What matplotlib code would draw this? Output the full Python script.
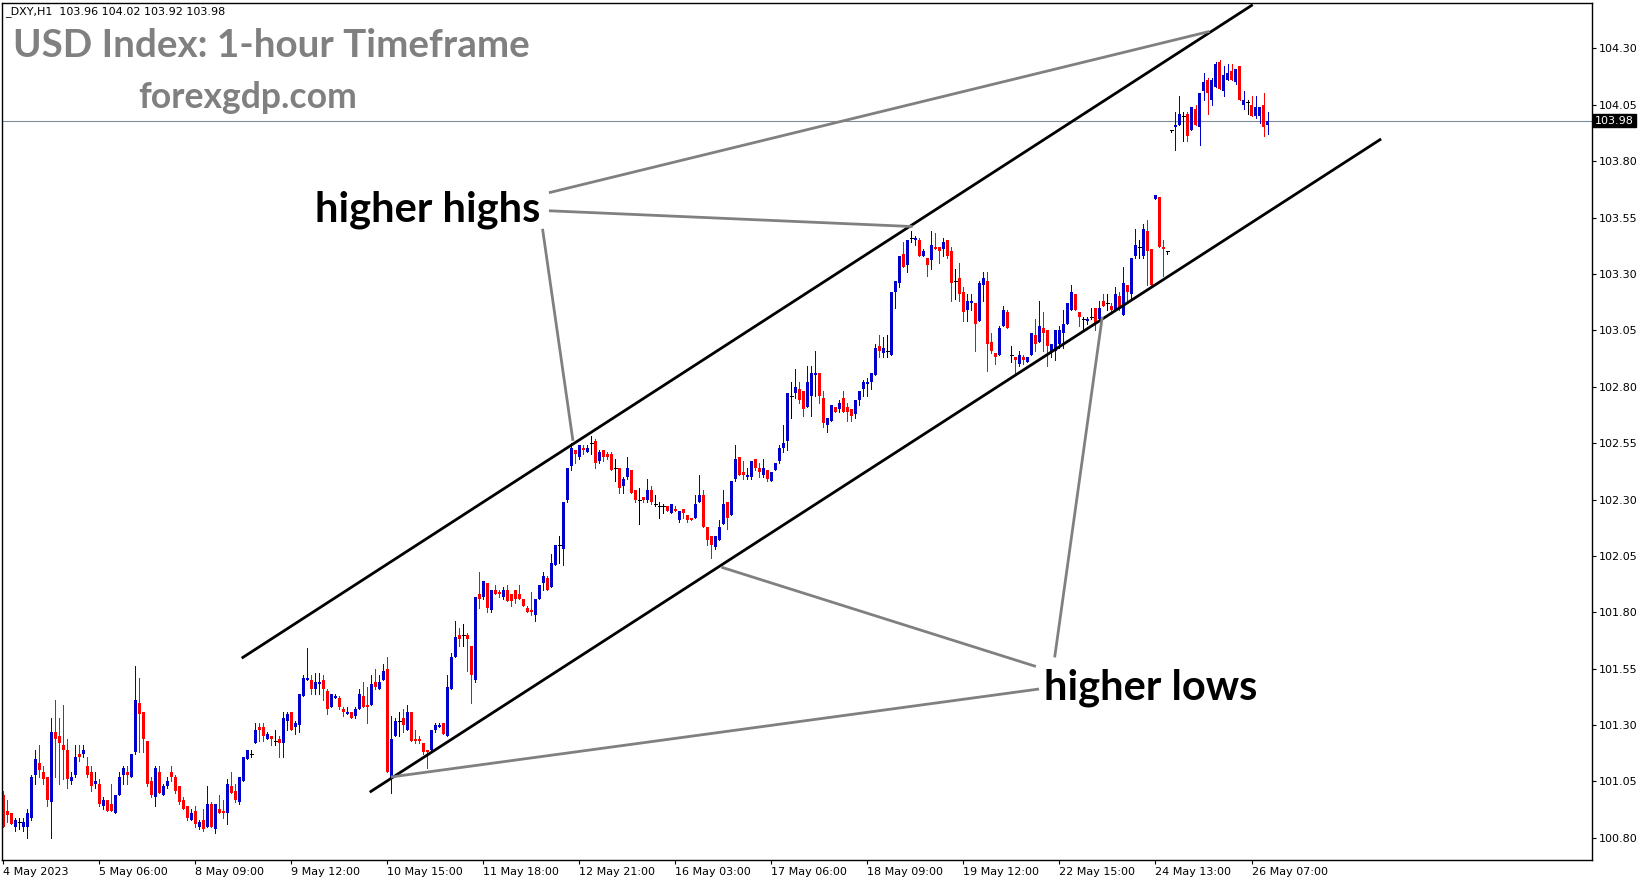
import numpy as np
import matplotlib
matplotlib.use('Agg')
import matplotlib.pyplot as plt
from matplotlib.transforms import blended_transform_factory

# hourly DXY candles, 4 May 2023 .. 26 May 2023
opens = [
    100.99, 100.92, 100.91, 100.85, 100.87, 100.85, 100.85, 100.89, 101.08, 101.13,
    101.09, 101.07, 100.96, 101.27, 101.25, 101.21, 101.19, 101.05, 101.08, 101.17,
    101.17, 101.12, 101.09, 101.04, 101.04, 100.94, 100.97, 100.95, 100.91, 100.99,
    101.08, 101.09, 101.07, 101.18, 101.40, 101.36, 101.23, 101.05, 100.98, 101.09,
    100.99, 101.03, 101.09, 101.07, 101.03, 100.97, 100.94, 100.88, 100.92, 100.85,
    100.88, 100.85, 100.95, 100.84, 100.93, 100.92, 100.91, 101.03, 101.01, 100.96,
    101.05, 101.15, 101.17, 101.22, 101.29, 101.29, 101.24, 101.25, 101.23, 101.24,
    101.22, 101.32, 101.36, 101.29, 101.30, 101.43, 101.50, 101.50, 101.46, 101.48,
    101.50, 101.45, 101.38, 101.42, 101.42, 101.37, 101.35, 101.36, 101.34, 101.37,
    101.43, 101.39, 101.39, 101.49, 101.46, 101.50, 101.55, 101.06, 101.25, 101.32,
    101.33, 101.28, 101.36, 101.24, 101.24, 101.22, 101.19, 101.19, 101.28, 101.29,
    101.31, 101.25, 101.46, 101.60, 101.70, 101.70, 101.70, 101.65, 101.50, 101.88,
    101.87, 101.93, 101.81, 101.90, 101.89, 101.87, 101.90, 101.88, 101.90, 101.88,
    101.86, 101.82, 101.81, 101.79, 101.86, 101.93, 101.95, 101.91, 102.01, 102.10,
    102.08, 102.30, 102.45, 102.52, 102.49, 102.53, 102.51, 102.55, 102.56, 102.47,
    102.52, 102.50, 102.50, 102.44, 102.44, 102.36, 102.40, 102.43, 102.34, 102.30,
    102.31, 102.30, 102.34, 102.28, 102.27, 102.27, 102.27, 102.24, 102.26, 102.21,
    102.26, 102.23, 102.22, 102.22, 102.29, 102.32, 102.18, 102.14, 102.09, 102.12,
    102.19, 102.29, 102.23, 102.39, 102.49, 102.42, 102.40, 102.40, 102.48, 102.44,
    102.41, 102.43, 102.38, 102.43, 102.47, 102.53, 102.56, 102.76, 102.77, 102.79,
    102.78, 102.71, 102.76, 102.85, 102.86, 102.75, 102.63, 102.65, 102.71, 102.70,
    102.75, 102.71, 102.70, 102.68, 102.74, 102.79, 102.81, 102.82, 102.85, 102.98,
    102.95, 102.96, 102.94, 103.22, 103.26, 103.39, 103.34, 103.46, 103.45, 103.45,
    103.38, 103.37, 103.36, 103.42, 103.42, 103.41, 103.45, 103.40, 103.27, 103.28,
    103.22, 103.14, 103.17, 103.17, 103.09, 103.25, 103.27, 103.00, 102.95, 102.94,
    103.07, 103.13, 102.94, 102.93, 102.90, 102.93, 102.91, 102.94, 103.03, 103.00,
    103.06, 103.05, 102.96, 102.96, 102.99, 103.04, 103.08, 103.14, 103.21, 103.13,
    103.10, 103.09, 103.11, 103.15, 103.10, 103.18, 103.17, 103.16, 103.14, 103.20,
    103.12, 103.25, 103.21, 103.38, 103.42, 103.38, 103.49, 103.41, 103.63, 103.64,
    103.42, 103.40, 103.94, 103.95, 103.96, 104.00, 104.01, 103.94, 104.03, 103.95,
    104.11, 104.16, 104.07, 104.13, 104.24, 104.11, 104.16, 104.20, 104.15, 104.22,
    104.05, 104.06, 104.05, 104.00, 104.00, 104.05, 103.96,
]
highs = [
    101.01, 100.97, 100.91, 100.89, 100.89, 100.89, 100.93, 101.08, 101.19, 101.21,
    101.12, 101.07, 101.33, 101.41, 101.33, 101.39, 101.24, 101.09, 101.21, 101.21,
    101.21, 101.16, 101.12, 101.09, 101.06, 100.98, 100.97, 101.04, 100.99, 101.09,
    101.12, 101.12, 101.17, 101.56, 101.51, 101.36, 101.23, 101.07, 101.12, 101.12,
    101.04, 101.07, 101.12, 101.08, 101.03, 100.98, 100.94, 100.93, 100.94, 100.88,
    100.93, 101.03, 100.96, 100.95, 100.99, 100.97, 101.06, 101.09, 101.04, 101.07,
    101.16, 101.19, 101.19, 101.31, 101.31, 101.31, 101.27, 101.25, 101.28, 101.25,
    101.36, 101.36, 101.36, 101.32, 101.44, 101.52, 101.64, 101.52, 101.53, 101.53,
    101.52, 101.46, 101.44, 101.44, 101.43, 101.38, 101.38, 101.36, 101.38, 101.46,
    101.49, 101.47, 101.52, 101.55, 101.52, 101.57, 101.60, 101.34, 101.33, 101.36,
    101.37, 101.39, 101.36, 101.28, 101.25, 101.22, 101.19, 101.28, 101.31, 101.31,
    101.31, 101.52, 101.62, 101.76, 101.73, 101.75, 101.71, 101.65, 101.87, 101.98,
    101.94, 101.93, 101.90, 101.92, 101.90, 101.91, 101.92, 101.88, 101.90, 101.92,
    101.86, 101.83, 101.89, 101.86, 101.92, 101.98, 101.96, 102.06, 102.10, 102.14,
    102.29, 102.44, 102.55, 102.52, 102.54, 102.54, 102.54, 102.58, 102.57, 102.52,
    102.52, 102.51, 102.51, 102.48, 102.44, 102.40, 102.49, 102.43, 102.34, 102.35,
    102.31, 102.39, 102.36, 102.32, 102.29, 102.28, 102.27, 102.28, 102.27, 102.25,
    102.26, 102.23, 102.22, 102.32, 102.41, 102.34, 102.18, 102.14, 102.14, 102.21,
    102.34, 102.29, 102.38, 102.54, 102.49, 102.47, 102.44, 102.47, 102.48, 102.46,
    102.48, 102.43, 102.42, 102.46, 102.54, 102.63, 102.77, 102.82, 102.88, 102.82,
    102.78, 102.89, 102.89, 102.96, 102.86, 102.78, 102.66, 102.72, 102.71, 102.74,
    102.78, 102.73, 102.70, 102.74, 102.78, 102.83, 102.84, 102.86, 102.99, 103.03,
    103.02, 103.03, 103.22, 103.27, 103.38, 103.44, 103.45, 103.49, 103.47, 103.46,
    103.41, 103.37, 103.49, 103.48, 103.42, 103.46, 103.45, 103.42, 103.32, 103.35,
    103.24, 103.21, 103.21, 103.17, 103.27, 103.31, 103.31, 103.04, 102.95, 103.07,
    103.16, 103.14, 102.98, 102.93, 102.96, 102.94, 102.93, 103.04, 103.10, 103.18,
    103.13, 103.05, 102.99, 103.05, 103.07, 103.14, 103.17, 103.25, 103.21, 103.13,
    103.11, 103.11, 103.15, 103.15, 103.18, 103.21, 103.21, 103.17, 103.24, 103.22,
    103.33, 103.25, 103.37, 103.50, 103.45, 103.52, 103.54, 103.41, 103.65, 103.64,
    103.45, 103.40, 103.94, 104.02, 104.09, 104.02, 104.02, 104.04, 104.05, 104.10,
    104.19, 104.17, 104.17, 104.24, 104.25, 104.22, 104.23, 104.23, 104.21, 104.22,
    104.11, 104.07, 104.09, 104.09, 104.04, 104.10, 104.02,
]
lows = [
    100.85, 100.87, 100.86, 100.83, 100.84, 100.83, 100.80, 100.88, 101.04, 101.07,
    101.04, 100.94, 100.80, 101.07, 101.04, 101.06, 101.02, 101.04, 101.07, 101.14,
    101.16, 101.07, 101.01, 101.02, 100.94, 100.93, 100.92, 100.92, 100.91, 100.99,
    101.04, 101.04, 101.07, 101.17, 101.18, 101.18, 101.03, 100.98, 100.94, 101.00,
    100.99, 101.02, 101.05, 101.00, 100.95, 100.93, 100.88, 100.88, 100.85, 100.84,
    100.83, 100.85, 100.85, 100.82, 100.91, 100.89, 100.86, 101.00, 100.96, 100.95,
    101.05, 101.15, 101.16, 101.22, 101.23, 101.23, 101.24, 101.21, 101.21, 101.16,
    101.16, 101.28, 101.28, 101.26, 101.27, 101.43, 101.50, 101.44, 101.44, 101.44,
    101.41, 101.35, 101.38, 101.42, 101.37, 101.34, 101.35, 101.33, 101.33, 101.37,
    101.38, 101.31, 101.39, 101.46, 101.46, 101.50, 101.09, 101.00, 101.25, 101.25,
    101.27, 101.28, 101.23, 101.22, 101.22, 101.17, 101.11, 101.19, 101.27, 101.29,
    101.26, 101.25, 101.46, 101.60, 101.65, 101.65, 101.54, 101.40, 101.49, 101.82,
    101.86, 101.80, 101.80, 101.88, 101.87, 101.86, 101.85, 101.83, 101.84, 101.86,
    101.83, 101.80, 101.79, 101.76, 101.86, 101.90, 101.90, 101.91, 102.01, 102.02,
    102.01, 102.29, 102.43, 102.46, 102.48, 102.50, 102.51, 102.50, 102.44, 102.46,
    102.47, 102.48, 102.43, 102.38, 102.33, 102.33, 102.39, 102.33, 102.29, 102.19,
    102.29, 102.29, 102.28, 102.27, 102.22, 102.24, 102.25, 102.24, 102.25, 102.20,
    102.22, 102.20, 102.21, 102.22, 102.29, 102.18, 102.10, 102.04, 102.08, 102.12,
    102.19, 102.17, 102.23, 102.38, 102.41, 102.39, 102.39, 102.39, 102.43, 102.40,
    102.40, 102.38, 102.38, 102.43, 102.46, 102.51, 102.52, 102.66, 102.75, 102.73,
    102.67, 102.71, 102.67, 102.76, 102.73, 102.62, 102.60, 102.65, 102.69, 102.69,
    102.69, 102.65, 102.65, 102.66, 102.72, 102.76, 102.76, 102.79, 102.85, 102.93,
    102.93, 102.93, 102.94, 103.15, 103.24, 103.33, 103.31, 103.44, 103.43, 103.38,
    103.38, 103.29, 103.32, 103.41, 103.35, 103.38, 103.37, 103.18, 103.19, 103.18,
    103.09, 103.09, 103.14, 102.96, 103.09, 103.18, 102.87, 102.95, 102.90, 102.94,
    103.07, 103.06, 102.91, 102.85, 102.89, 102.90, 102.91, 102.94, 102.96, 103.00,
    102.96, 102.89, 102.93, 102.92, 102.97, 102.97, 103.08, 103.14, 103.14, 103.07,
    103.05, 103.08, 103.10, 103.05, 103.10, 103.16, 103.14, 103.13, 103.14, 103.14,
    103.12, 103.18, 103.19, 103.37, 103.37, 103.37, 103.25, 103.24, 103.63, 103.42,
    103.29, 103.39, 103.93, 103.85, 103.96, 103.89, 103.89, 103.94, 103.96, 103.87,
    104.07, 104.01, 104.05, 104.13, 104.12, 104.09, 104.16, 104.16, 104.14, 104.07,
    104.03, 104.01, 104.00, 103.99, 103.97, 103.91, 103.92,
]
closes = [
    100.85, 100.90, 100.86, 100.88, 100.87, 100.87, 100.91, 101.07, 101.15, 101.10,
    101.06, 100.97, 101.27, 101.24, 101.22, 101.19, 101.06, 101.07, 101.16, 101.16,
    101.19, 101.08, 101.03, 101.05, 100.95, 100.97, 100.92, 100.92, 100.99, 101.07,
    101.11, 101.08, 101.17, 101.41, 101.35, 101.24, 101.04, 100.99, 101.11, 101.00,
    101.03, 101.05, 101.07, 101.01, 100.96, 100.93, 100.89, 100.91, 100.86, 100.87,
    100.84, 100.95, 100.85, 100.95, 100.91, 100.91, 101.04, 101.00, 100.97, 101.07,
    101.16, 101.19, 101.17, 101.28, 101.28, 101.25, 101.26, 101.24, 101.23, 101.22,
    101.33, 101.35, 101.28, 101.31, 101.44, 101.51, 101.51, 101.46, 101.49, 101.49,
    101.46, 101.37, 101.44, 101.43, 101.38, 101.36, 101.36, 101.33, 101.37, 101.44,
    101.38, 101.38, 101.48, 101.47, 101.49, 101.54, 101.09, 101.24, 101.32, 101.32,
    101.30, 101.36, 101.23, 101.23, 101.23, 101.18, 101.18, 101.28, 101.30, 101.30,
    101.26, 101.47, 101.60, 101.69, 101.68, 101.70, 101.68, 101.52, 101.87, 101.86,
    101.94, 101.82, 101.90, 101.88, 101.88, 101.90, 101.85, 101.85, 101.86, 101.86,
    101.83, 101.80, 101.80, 101.86, 101.92, 101.96, 101.90, 102.02, 102.10, 102.10,
    102.29, 102.44, 102.53, 102.50, 102.54, 102.52, 102.53, 102.55, 102.46, 102.51,
    102.49, 102.49, 102.43, 102.44, 102.35, 102.39, 102.44, 102.33, 102.30, 102.30,
    102.30, 102.34, 102.29, 102.28, 102.27, 102.27, 102.25, 102.28, 102.25, 102.25,
    102.24, 102.21, 102.21, 102.28, 102.32, 102.18, 102.12, 102.10, 102.14, 102.18,
    102.28, 102.22, 102.38, 102.48, 102.41, 102.41, 102.41, 102.47, 102.44, 102.42,
    102.44, 102.39, 102.42, 102.46, 102.53, 102.55, 102.77, 102.76, 102.80, 102.74,
    102.70, 102.82, 102.86, 102.86, 102.76, 102.64, 102.66, 102.72, 102.69, 102.73,
    102.69, 102.69, 102.67, 102.74, 102.78, 102.82, 102.82, 102.86, 102.97, 102.96,
    102.97, 102.96, 103.22, 103.27, 103.38, 103.33, 103.45, 103.46, 103.46, 103.38,
    103.40, 103.34, 103.43, 103.41, 103.40, 103.44, 103.38, 103.26, 103.27, 103.21,
    103.13, 103.18, 103.18, 103.08, 103.26, 103.28, 102.99, 102.96, 102.93, 103.06,
    103.14, 103.06, 102.94, 102.92, 102.94, 102.92, 102.93, 103.04, 102.99, 103.07,
    103.04, 102.98, 102.99, 103.05, 103.05, 103.08, 103.17, 103.22, 103.14, 103.11,
    103.10, 103.10, 103.11, 103.08, 103.15, 103.16, 103.17, 103.14, 103.21, 103.15,
    103.26, 103.22, 103.37, 103.43, 103.42, 103.50, 103.40, 103.25, 103.65, 103.42,
    103.41, 103.40, 103.94, 103.96, 104.01, 104.00, 103.91, 104.04, 103.96, 104.10,
    104.15, 104.10, 104.16, 104.23, 104.12, 104.18, 104.19, 104.16, 104.21, 104.07,
    104.07, 104.06, 104.00, 104.04, 104.04, 103.95, 103.98,
]

tick_bars = [0, 24, 48, 72, 96, 120, 144, 168, 192, 216, 240, 264, 288, 312]
tick_labels = ['4 May 2023', '5 May 06:00', '8 May 09:00', '9 May 12:00',
               '10 May 15:00', '11 May 18:00', '12 May 21:00', '16 May 03:00',
               '17 May 06:00', '18 May 09:00', '19 May 12:00', '22 May 15:00',
               '24 May 13:00', '26 May 07:00']
price_ticks = [100.80, 101.05, 101.30, 101.55, 101.80, 102.05, 102.30, 102.55,
               102.80, 103.05, 103.30, 103.55, 103.80, 104.05, 104.30]

# channel lines (bar index, price)
upper_x, upper_y = [59.9, 312.0], [101.60, 104.49]
lower_x, lower_y = [91.9, 344.1], [101.006, 103.895]

# pointer lines from the labels to the touches
hh_from = [(136.4, 103.66), (136.4, 103.58), (134.8, 103.50)]
hh_to = [(301.5, 104.375), (227.3, 103.51), (142.4, 102.56)]
hl_from = [(262.8, 101.60), (258.1, 101.56), (258.9, 101.46)]
hl_to = [(274.7, 103.11), (179.5, 102.00), (96.9, 101.07)]

last_price = 103.98

BULL = '#0000cd'
BEAR = '#ff0000'
POINTER = '#808080'


def plot_candles(ax, o, h, l, c, width=0.78):
    o, h, l, c = map(np.asarray, (o, h, l, c))
    x = np.arange(len(o))
    colors = np.where(c > o, BULL, np.where(c < o, BEAR, 'black'))
    ax.vlines(x, l, h, colors=colors, linewidth=0.72, antialiased=False, zorder=2)
    body = np.maximum(np.abs(c - o), 0.005)
    moving = c != o
    ax.bar(x[moving], body[moving], width=width, bottom=np.minimum(o, c)[moving],
           color=colors[moving], linewidth=0, antialiased=False, zorder=2)
    flat = ~moving
    ax.hlines(c[flat], x[flat] - 0.4, x[flat] + 0.4, colors='black',
              linewidth=0.72, antialiased=False, zorder=2)


def plot_pointers(ax, starts, ends):
    for (x0, y0), (x1, y1) in zip(starts, ends):
        ax.plot([x0, x1], [y0, y1], color=POINTER, linewidth=2.0,
                solid_capstyle='butt', zorder=3)


fig = plt.figure(figsize=(16.49, 8.84), dpi=100)
ax = fig.add_axes([2 / 1649, 24 / 884, 1590 / 1649, 857 / 884])

plot_candles(ax, opens, highs, lows, closes)

ax.plot(upper_x, upper_y, color='black', linewidth=2.0, zorder=3)
ax.plot(lower_x, lower_y, color='black', linewidth=2.0, zorder=3)
plot_pointers(ax, hh_from, hh_to)
plot_pointers(ax, hl_from, hl_to)

ax.axhline(last_price, color='#7f8c99', linewidth=0.8, zorder=1)

label_font = dict(family='Lato', weight='bold', fontsize=30)
ax.text(78.0, 103.585, 'higher highs', color='black', ha='left', va='center',
        zorder=4, **label_font)
ax.text(260.2, 101.467, 'higher lows', color='black', ha='left', va='center',
        zorder=4, **label_font)

ax.text(0.0067, 0.950, 'USD Index: 1-hour Timeframe', transform=ax.transAxes,
        color='#808080', ha='left', va='center', family='Lato', weight='bold',
        fontsize=27.8)
ax.text(0.0855, 0.890, 'forexgdp.com', transform=ax.transAxes,
        color='#808080', ha='left', va='center', family='Lato', weight='bold',
        fontsize=25.6)
ax.text(0.002, 0.9895, '_DXY,H1  103.96 104.02 103.92 103.98',
        transform=ax.transAxes, fontsize=8, ha='left', va='center')

ax.set_xlim(-0.3, 397.1)
ax.set_ylim(100.702, 104.501)

ax.yaxis.tick_right()
ax.set_yticks(price_ticks)
ax.set_yticklabels([f'{p:.2f}' for p in price_ticks])
ax.set_xticks(tick_bars)
ax.set_xticklabels(tick_labels, ha='left')
ax.tick_params(axis='both', direction='out', length=3, width=0.8,
               labelsize=8, colors='black')
ax.tick_params(axis='x', pad=2)
ax.tick_params(axis='y', pad=2)
for spine in ax.spines.values():
    spine.set_linewidth(1.0)
    spine.set_color('black')

mixed = blended_transform_factory(ax.transAxes, ax.transData)
ax.text(1.0 + 3 / 1590, last_price, '103.98', transform=mixed, color='white',
        fontsize=8, ha='left', va='center',
        bbox=dict(facecolor='black', edgecolor='black', pad=1.2))

fig.savefig('out.png', dpi=100)
